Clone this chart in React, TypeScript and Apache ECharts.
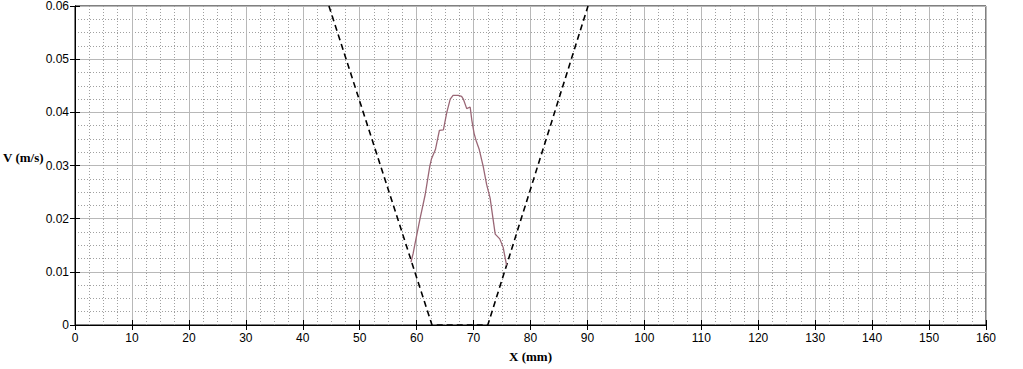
import React, { useEffect, useRef } from "react";
import * as echarts from "echarts";

const xTicks = [0, 10, 20, 30, 40, 50, 60, 70, 80, 90, 100, 110, 120, 130, 140, 150, 160];
const yTicks = [0, 0.01, 0.02, 0.03, 0.04, 0.05, 0.06];

// Dashed boundary (X mm, V m/s)
const boundaryX = [44.6, 62.7, 72.5, 90.1];
const boundaryV = [0.06, 0, 0, 0.06];

// Measured velocity profile
const profileX = [59.0, 59.4, 59.7, 60.6, 61.5, 62.3, 62.6, 63.3, 64.0, 64.7, 65.3, 65.9, 66.4, 67.3, 67.9, 68.2, 68.8, 69.4, 69.7, 70.1, 70.5, 71.0, 71.7, 72.3, 72.9, 73.8, 74.6, 75.2, 75.8];
const profileV = [0.0118, 0.0135, 0.0152, 0.0200, 0.0245, 0.0298, 0.0312, 0.0330, 0.0366, 0.0367, 0.0400, 0.0425, 0.0432, 0.0432, 0.0430, 0.0425, 0.0407, 0.0410, 0.0385, 0.0360, 0.0345, 0.0330, 0.0298, 0.0264, 0.0239, 0.0171, 0.0162, 0.0146, 0.0112];

export default function App() {
  const ref = useRef<HTMLDivElement>(null);
  useEffect(() => {
    if (!ref.current) return;
    const chart = echarts.init(ref.current, null, { renderer: "svg" });
    const labelFont = { fontFamily: "Liberation Sans", fontSize: 12, color: "#000" };
    const nameFont = { fontFamily: "Liberation Serif", fontSize: 13, fontWeight: "bold" as const, color: "#000" };
    const tickStyle = { show: true, inside: true, length: 5, lineStyle: { color: "#000", width: 1 } };
    const xMin = xTicks[0], xMax = xTicks[xTicks.length - 1];
    const yMin = yTicks[0], yMax = yTicks[yTicks.length - 1];
    chart.setOption({
      animation: false,
      backgroundColor: "#fff",
      grid: {
        left: 75, right: 37, top: 6, bottom: 44, containLabel: false, outerBoundsMode: "none",
        show: true, borderColor: "#000", borderWidth: 1, backgroundColor: "transparent",
      },
      graphic: [
        {
          type: "text", left: 3, top: 151,
          style: { text: "V (m/s)", fontFamily: "Liberation Serif", fontSize: 13, fontWeight: "bold", fill: "#000" },
        },
      ],
      xAxis: [
        {
          type: "value", min: xMin, max: xMax, interval: 10, position: "bottom",
          name: "X (mm)", nameLocation: "middle", nameGap: 25, nameTextStyle: nameFont,
          axisLine: { show: true, lineStyle: { color: "#000" } },
          axisTick: tickStyle,
          axisLabel: { ...labelFont, margin: 7 },
          splitLine: { show: true, lineStyle: { color: "#b8b8b8", width: 1 } },
          minorTick: { show: false, splitNumber: 4 },
          minorSplitLine: { show: true, lineStyle: { color: "#a0a0a0", type: [1, 2], width: 1 } },
        },
        {
          type: "value", min: xMin, max: xMax, interval: 10, position: "top",
          axisLine: { show: true, lineStyle: { color: "#000" } },
          axisTick: tickStyle, axisLabel: { show: false }, splitLine: { show: false },
        },
      ],
      yAxis: [
        {
          type: "value", min: yMin, max: yMax, interval: 0.01, position: "left",
          axisLine: { show: true, lineStyle: { color: "#000" } },
          axisTick: tickStyle,
          axisLabel: { ...labelFont, lineHeight: 12, margin: 6, formatter: (v: number) => (v === 0 ? "0" : v.toFixed(2)) },
          splitLine: { show: true, lineStyle: { color: "#b8b8b8", width: 1 } },
          minorTick: { show: false, splitNumber: 4 },
          minorSplitLine: { show: true, lineStyle: { color: "#a0a0a0", type: [1, 2], width: 1 } },
        },
        {
          type: "value", min: yMin, max: yMax, interval: 0.01, position: "right",
          axisLine: { show: true, lineStyle: { color: "#000" } },
          axisTick: tickStyle, axisLabel: { show: false }, splitLine: { show: false },
        },
      ],
      series: [
        {
          type: "line", name: "boundary", xAxisIndex: 0, yAxisIndex: 0,
          data: boundaryX.map((x, i) => [x, boundaryV[i]]),
          showSymbol: false, symbol: "none",
          lineStyle: { color: "#000", width: 1.6, type: [6, 4] },
          z: 3,
        },
        {
          type: "line", name: "profile", xAxisIndex: 0, yAxisIndex: 0,
          data: profileX.map((x, i) => [x, profileV[i]]),
          showSymbol: false, symbol: "none",
          lineStyle: { color: "#9a6776", width: 1.3 },
          z: 4,
        },
      ],
    });
    return () => chart.dispose();
  }, []);
  return <div ref={ref} style={{ position: "fixed", left: 0, top: 0, width: 1023, height: 369 }} />;
}
